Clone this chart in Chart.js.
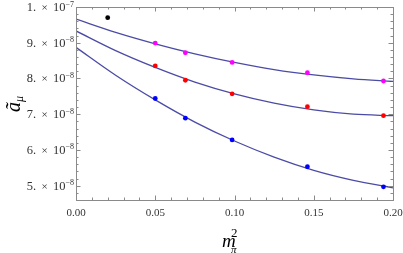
<!DOCTYPE html>
<html>
<head>
<meta charset="utf-8">
<script src="https://cdn.jsdelivr.net/npm/chart.js@4"></script>
<style>
  html, body { margin: 0; padding: 0; background: #fff; }
  #wrap { width: 403px; height: 253px; }
</style>
</head>
<body>
<div id="wrap"><canvas id="chart" width="403" height="253"></canvas></div>
<script>
// lattice points (m_pi^2 vs a_mu)
const xPoints = [0.05, 0.069, 0.0985, 0.146, 0.194];
const magentaY = [8.99e-8, 8.72e-8, 8.45e-8, 8.16e-8, 7.93e-8];
const redY = [8.35e-8, 7.95e-8, 7.57e-8, 7.21e-8, 6.96e-8];
const blueY = [7.44e-8, 6.89e-8, 6.28e-8, 5.53e-8, 4.97e-8];
const blackX = [0.02];
const blackY = [9.70e-8];

// fit curves
const curveX = [0, 0.025, 0.05, 0.075, 0.1, 0.125, 0.15, 0.175, 0.2];
const topCurve = [9.66e-8, 9.29e-8, 8.97e-8, 8.69e-8, 8.45e-8, 8.25e-8, 8.10e-8, 7.99e-8, 7.92e-8];
const midCurve = [9.33e-8, 8.78e-8, 8.31e-8, 7.90e-8, 7.57e-8, 7.31e-8, 7.12e-8, 7.00e-8, 6.96e-8];
const lowCurve = [8.87e-8, 8.09e-8, 7.40e-8, 6.78e-8, 6.25e-8, 5.80e-8, 5.43e-8, 5.15e-8, 4.94e-8];

// ticks
const xTicks = [0, 0.05, 0.1, 0.15, 0.2];
const xTickLabels = ["0.00", "0.05", "0.10", "0.15", "0.20"];
const yTicks = [5e-8, 6e-8, 7e-8, 8e-8, 9e-8, 1e-7];
const yTickMant = ["5.", "6.", "7.", "8.", "9.", "1."];
const yTickExp = ["\u22128", "\u22128", "\u22128", "\u22128", "\u22128", "\u22127"];

const lineColor = "#4b4ba6";
const frameColor = "#8a8a8a";
const textColor = "#333";
const serif = "'Liberation Serif', 'DejaVu Serif', serif";

function pts(xs, ys) {
    return xs.map((x, i) => ({ x: x, y: ys[i] }));
}

function curve(ys) {
    return {
        data: pts(curveX, ys),
        showLine: true,
        borderColor: lineColor,
        borderWidth: 1.3,
        pointRadius: 0,
        cubicInterpolationMode: "monotone",
        order: 2
    };
}

function dots(xs, ys, color) {
    return {
        data: pts(xs, ys),
        showLine: false,
        backgroundColor: color,
        borderColor: color,
        pointRadius: 2.4,
        borderWidth: 0,
        order: 1
    };
}

const framePlugin = {
    id: "frame",
    afterDraw(chart) {
        const ctx = chart.ctx;
        const a = chart.chartArea;
        const xs = chart.scales.x;
        const ys = chart.scales.y;
        ctx.save();
        ctx.strokeStyle = frameColor;
        ctx.lineWidth = 1;
        ctx.strokeRect(Math.round(a.left) + 0.5, Math.round(a.top) + 0.5,
            Math.round(a.right - a.left), Math.round(a.bottom - a.top));

        ctx.beginPath();
        // x ticks, every 0.01, major every 0.05
        for (let i = 0; i <= 20; i++) {
            const px = Math.round(xs.getPixelForValue(i / 100)) + 0.5;
            const len = i % 5 === 0 ? 4.5 : 2.5;
            ctx.moveTo(px, a.bottom); ctx.lineTo(px, a.bottom - len);
            ctx.moveTo(px, a.top); ctx.lineTo(px, a.top + len);
        }
        // y ticks, every 0.2e-8, major every 1e-8
        for (let i = 23; i <= 50; i++) {
            const py = Math.round(ys.getPixelForValue(i * 0.2e-8)) + 0.5;
            const len = i % 5 === 0 ? 4.5 : 2.5;
            ctx.moveTo(a.left, py); ctx.lineTo(a.left + len, py);
            ctx.moveTo(a.right, py); ctx.lineTo(a.right - len, py);
        }
        ctx.stroke();

        ctx.fillStyle = textColor;
        ctx.font = "11px " + serif;
        ctx.textAlign = "center";
        ctx.textBaseline = "alphabetic";
        xTicks.forEach((v, i) => {
            ctx.fillText(xTickLabels[i], xs.getPixelForValue(v), a.bottom + 16);
        });

        // y tick labels: "7. × 10^-8"
        ctx.textAlign = "right";
        yTicks.forEach((v, i) => {
            const py = ys.getPixelForValue(v);
            const rx = a.left - 2;
            ctx.font = "8px " + serif;
            ctx.fillText(yTickExp[i], rx, py - 0.5);
            const ew = ctx.measureText(yTickExp[i]).width;
            ctx.font = "12.5px " + serif;
            ctx.fillText("10", rx - ew, py + 4);
            ctx.textAlign = "center";
            ctx.font = "11px " + serif;
            ctx.fillText("\u00d7", rx - 29.5, py + 4);
            ctx.textAlign = "right";
            ctx.font = "12.5px " + serif;
            ctx.fillText(yTickMant[i], rx - 38, py + 4);
        });

        // x title: m_pi^2
        ctx.fillStyle = "#000";
        ctx.textAlign = "left";
        ctx.font = "italic 19px " + serif;
        ctx.fillText("m", 222, 246.5);
        ctx.font = "italic 11px " + serif;
        ctx.fillText("\u03c0", 231, 252.5);
        ctx.font = "13px " + serif;
        ctx.fillText("2", 231, 237);

        // y title: a-tilde_mu
        ctx.translate(20, 112);
        ctx.rotate(-Math.PI / 2);
        ctx.font = "italic 20px " + serif;
        ctx.fillText("\u00e3", 0, 0);
        const aw = ctx.measureText("\u00e3").width;
        ctx.font = "italic 12px " + serif;
        ctx.fillText("\u03bc", aw, 3);
        ctx.restore();
    }
};

new Chart(document.getElementById("chart").getContext("2d"), {
    type: "scatter",
    data: {
        datasets: [
            curve(topCurve),
            curve(midCurve),
            curve(lowCurve),
            dots(xPoints, magentaY, "#ff00ff"),
            dots(xPoints, redY, "#ff0000"),
            dots(xPoints, blueY, "#0000ff"),
            dots(blackX, blackY, "#000000")
        ]
    },
    options: {
        responsive: false,
        animation: false,
        layout: {
            padding: { left: 76, right: 10, top: 7, bottom: 53 }
        },
        plugins: {
            legend: { display: false },
            tooltip: { enabled: false }
        },
        scales: {
            x: {
                type: "linear",
                display: false,
                min: 0,
                max: 0.2
            },
            y: {
                type: "linear",
                display: false,
                min: 4.6e-8,
                max: 1.0e-7
            }
        }
    },
    plugins: [framePlugin]
});
</script>
</body>
</html>
